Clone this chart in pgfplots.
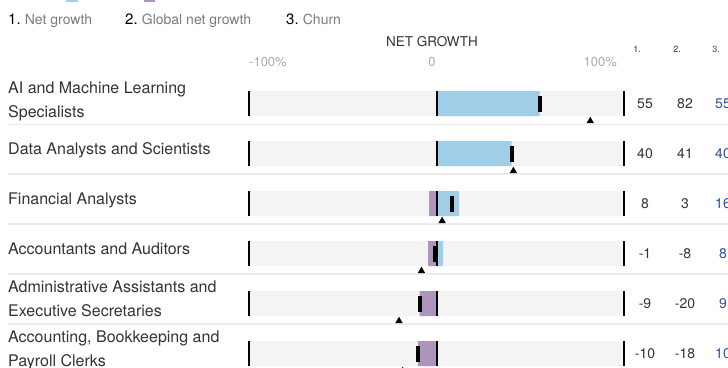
\documentclass[border=0pt]{standalone}
\usepackage{pgfplots}
\pgfplotsset{compat=1.18}
\usepackage{fontspec}
\setmainfont{TeX Gyre Heros}

\definecolor{inflow}{HTML}{A0CEE6}
\definecolor{outflow}{HTML}{AD94BD}
\definecolor{track}{HTML}{F4F4F4}
\definecolor{rule}{HTML}{EBEBEB}
\definecolor{labeltext}{HTML}{333333}
\definecolor{legendtext}{HTML}{7A7A7A}
\definecolor{ticktext}{HTML}{AAAAAA}
\definecolor{churnblue}{HTML}{2E4E9E}

\newcommand{\lab}[1]{\fontsize{16pt}{19pt}\selectfont\color{labeltext}#1}
\newcommand{\val}[1]{\fontsize{14pt}{17pt}\selectfont\color{labeltext}#1}
\newcommand{\leg}[2]{\fontsize{15pt}{17pt}\selectfont\textcolor{black}{#1}\ \fontsize{14pt}{17pt}\selectfont\textcolor{legendtext}{#2}}

\begin{document}
\begin{tikzpicture}[x=1pt,y=1pt]
\useasboundingbox (0,0) rectangle (728,-367);
\clip (0,0) rectangle (728,-367);

% cut-off legend swatches at the very top
\fill[inflow] (66,3) rectangle (78,-2);
\fill[outflow] (144,3) rectangle (155,-2);

% legend line
\node[anchor=base west,inner sep=0] at (8,-24) {\leg{1.}{Net growth}};
\node[anchor=base west,inner sep=0] at (125,-24) {\leg{2.}{Global net growth}};
\node[anchor=base west,inner sep=0] at (286,-24) {\leg{3.}{Churn}};

% header
\node[anchor=base,inner sep=0] at (432,-46) {\fontsize{13.5pt}{16pt}\selectfont\color{labeltext}NET GROWTH};
\node[anchor=base west,inner sep=0] at (249,-66) {\fontsize{13pt}{16pt}\selectfont\color{ticktext}-100\%};
\node[anchor=base,inner sep=0] at (432,-66) {\fontsize{13pt}{16pt}\selectfont\color{ticktext}0};
\node[anchor=base east,inner sep=0] at (617,-66) {\fontsize{13pt}{16pt}\selectfont\color{ticktext}100\%};
\node[anchor=base,inner sep=0] at (637,-52) {\fontsize{9pt}{11pt}\selectfont\color{labeltext}1.};
\node[anchor=base,inner sep=0] at (677,-52) {\fontsize{9pt}{11pt}\selectfont\color{labeltext}2.};
\node[anchor=base,inner sep=0] at (716,-52) {\fontsize{9pt}{11pt}\selectfont\color{churnblue}3.};

% row separators
\foreach \yy in {124.5,174,224,274,324}
  \draw[rule,line width=1.6pt] (8,-\yy) -- (728,-\yy);

% row labels
\node[anchor=base west,inner sep=0] at (8,-93.5) {\lab{AI and Machine Learning}};
\node[anchor=base west,inner sep=0] at (8,-117.5) {\lab{Specialists}};
\node[anchor=base west,inner sep=0] at (8,-154.5) {\lab{Data Analysts and Scientists}};
\node[anchor=base west,inner sep=0] at (8,-204.5) {\lab{Financial Analysts}};
\node[anchor=base west,inner sep=0] at (8,-254.5) {\lab{Accountants and Auditors}};
\node[anchor=base west,inner sep=0] at (8,-292.5) {\lab{Administrative Assistants and}};
\node[anchor=base west,inner sep=0] at (8,-316.5) {\lab{Executive Secretaries}};
\node[anchor=base west,inner sep=0] at (8,-342.5) {\lab{Accounting, Bookkeeping and}};
\node[anchor=base west,inner sep=0] at (8,-366.5) {\lab{Payroll Clerks}};

% value columns: net growth, global net growth, churn
\foreach \r/\a/\b/\c in {0/55/82/55,1/40/41/40,2/8/3/16,3/-1/-8/8,4/-9/-20/9,5/-10/-18/10}{
  \node[anchor=base,inner sep=0] at (645,-108.5-50*\r) {\val{\a}};
  \node[anchor=base,inner sep=0] at (685,-108.5-50*\r) {\val{\b}};
  \node[anchor=base,inner sep=0] at (723,-108.5-50*\r) {\fontsize{14pt}{17pt}\selectfont\color{churnblue}\c};
}

\begin{axis}[
    at={(249pt,-78.5pt)}, anchor=north west,
    scale only axis, width=375pt, height=300pt,
    xmin=-100, xmax=100, ymin=-0.5, ymax=5.5,
    y dir=reverse,
    axis lines=none,
    clip=false,
  ]
  % background track
  \addplot[xbar, bar width=25pt, fill=track, draw=none] coordinates {
      (100,0) (100,1) (100,2) (100,3) (100,4) (100,5)};
  \addplot[xbar, bar width=25pt, fill=track, draw=none] coordinates {
      (-100,0) (-100,1) (-100,2) (-100,3) (-100,4) (-100,5)};
  % inflow (positive part of churn)
  \addplot[xbar, bar width=25pt, fill=inflow, draw=none] coordinates {
      (55,0) (40,1) (12,2) (3.5,3) (0,4) (0,5)};
  % outflow (negative part of churn)
  \addplot[xbar, bar width=25pt, fill=outflow, draw=none] coordinates {
      (0,0) (0,1) (-4,2) (-4.5,3) (-9,4) (-10,5)};
  % reference lines at -100, 0 and 100
  \addplot[only marks, mark=|, mark size=12.5pt, mark options={line width=2pt,black}] coordinates {
      (-100,0) (0,0) (100,0) (-100,1) (0,1) (100,1) (-100,2) (0,2) (100,2)
      (-100,3) (0,3) (100,3) (-100,4) (0,4) (100,4) (-100,5) (0,5) (100,5)};
  % net growth
  \addplot[only marks, mark=|, mark size=8pt, mark options={line width=4pt,black}] coordinates {
      (55,0) (40,1) (8,2) (-1,3) (-9,4) (-10,5)};
  % global net growth
  \addplot[only marks, mark=triangle*, mark size=3.8pt, mark options={black}] coordinates {
      (82,0.35) (41,1.35) (3,2.35) (-8,3.35) (-20,4.35) (-18,5.35)};
\end{axis}
\end{tikzpicture}
\end{document}
